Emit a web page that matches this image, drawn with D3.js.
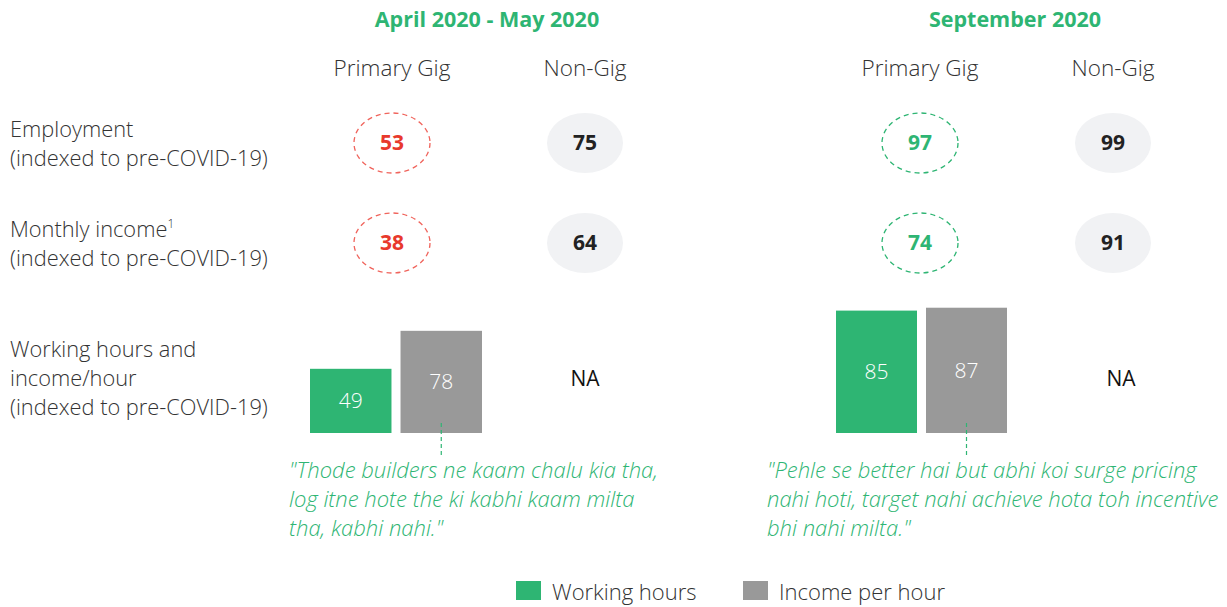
<!DOCTYPE html>
<html>
<head>
<meta charset="utf-8">
<script src="https://cdn.jsdelivr.net/npm/d3@7"></script>
<style>
  body { margin: 0; background: #fff; }
  text { font-family: "Open Sans", "Noto Sans", sans-serif; }
</style>
</head>
<body>
<script>
// Data
var periods = ["April 2020 - May 2020", "September 2020"];
var groups = ["Primary Gig", "Non-Gig"];
var gigEmployment = [53, 97];
var nonGigEmployment = [75, 99];
var gigIncome = [38, 74];
var nonGigIncome = [64, 91];
var barSeries = ["Working hours", "Income per hour"];
var workingHours = [49, 85];
var incomePerHour = [78, 87];
var quotes = [
    ["\"Thode builders ne kaam chalu kia tha,", "log itne hote the ki kabhi kaam milta", "tha, kabhi nahi.\""],
    ["\"Pehle se better hai but abhi koi surge pricing", "nahi hoti, target nahi achieve hota toh incentive", "bhi nahi milta.\""]
];
var rowLabels = [
    ["Employment", "(indexed to pre-COVID-19)"],
    ["Monthly income", "(indexed to pre-COVID-19)"],
    ["Working hours and", "income/hour", "(indexed to pre-COVID-19)"]
];

var width = 1227, height = 607;
var green = "#2eb573", gray = "#999999", red = "#e8392c", redLine = "#f0645c", textCol = "#333333";

var svg = d3.select("body").append("svg")
    .attr("width", width)
    .attr("height", height);

// panel offsets
var panelX = [0, 528];
var colScale = d3.scalePoint().domain(groups).range([392, 585]);
var rowY = [143, 243];
var baseY = 433;

// bars scale per panel
var yScales = [
    d3.scaleLinear().domain([0, 100]).range([0, 131]),
    d3.scaleLinear().domain([0, 100]).range([0, 144])
];

// Row labels
rowLabels.forEach(function(lines, i) {
    var startY = [129, 229, 349][i];
    lines.forEach(function(l, j) {
        var t = svg.append("text")
            .attr("x", 10)
            .attr("y", startY + j * 29)
            .attr("dy", "0.35em")
            .attr("font-size", 21.8)
            .attr("font-weight", 300)
            .attr("fill", textCol)
            .text(l);
        if (i === 1 && j === 0) {
            t.append("tspan").attr("font-size", 12).attr("dy", "-0.7em").text("1");
        }
    });
});

periods.forEach(function(p, i) {
    var off = panelX[i];
    var g = svg.append("g").attr("transform", "translate(" + off + ",0)");

    // Title
    g.append("text")
        .attr("x", 487)
        .attr("y", 19)
        .attr("dy", "0.35em")
        .attr("text-anchor", "middle")
        .attr("font-size", 21.5)
        .attr("font-weight", 700)
        .attr("fill", green)
        .text(p);

    // Column headers
    groups.forEach(function(gr) {
        g.append("text")
            .attr("x", colScale(gr))
            .attr("y", 68)
            .attr("dy", "0.35em")
            .attr("text-anchor", "middle")
            .attr("font-size", 22.5)
            .attr("font-weight", 300)
            .attr("fill", textCol)
            .text(gr);
    });

    // Ellipses
    var cells = [
        { grp: "Primary Gig", row: 0, v: gigEmployment[i] },
        { grp: "Non-Gig", row: 0, v: nonGigEmployment[i] },
        { grp: "Primary Gig", row: 1, v: gigIncome[i] },
        { grp: "Non-Gig", row: 1, v: nonGigIncome[i] }
    ];
    var gigCol = i === 0 ? red : green;
    var gigLine = i === 0 ? redLine : green;

    cells.forEach(function(c) {
        var cx = colScale(c.grp), cy = rowY[c.row];
        var isGig = c.grp === "Primary Gig";
        g.append("ellipse")
            .attr("cx", cx)
            .attr("cy", cy)
            .attr("rx", 38)
            .attr("ry", 30)
            .attr("fill", isGig ? "none" : "#f1f2f4")
            .attr("stroke", isGig ? gigLine : "none")
            .attr("stroke-width", 1.3)
            .attr("stroke-dasharray", "5,4");
        g.append("text")
            .attr("x", cx)
            .attr("y", cy)
            .attr("dy", "0.35em")
            .attr("text-anchor", "middle")
            .attr("font-size", 21)
            .attr("font-weight", 700)
            .attr("fill", isGig ? gigCol : "#222")
            .text(c.v);
    });

    // Bars
    var x = d3.scaleBand().domain(barSeries).range([i === 0 ? 310 : 308, i === 0 ? 482 : 479]).paddingInner(0.1);
    var vals = [workingHours[i], incomePerHour[i]];
    barSeries.forEach(function(s, k) {
        var h = yScales[i](vals[k]);
        g.append("rect")
            .attr("x", x(s))
            .attr("y", baseY - h)
            .attr("width", x.bandwidth())
            .attr("height", h)
            .attr("fill", k === 0 ? green : gray);
        g.append("text")
            .attr("x", x(s) + x.bandwidth() / 2)
            .attr("y", baseY - h / 2)
            .attr("dy", "0.35em")
            .attr("text-anchor", "middle")
            .attr("font-size", 21)
            .attr("font-weight", 300)
            .attr("fill", "#fff")
            .text(vals[k]);
    });

    // NA
    g.append("text")
        .attr("x", i === 0 ? 585 : 593)
        .attr("y", 379)
        .attr("dy", "0.35em")
        .attr("text-anchor", "middle")
        .attr("font-size", 21)
        .attr("fill", "#111")
        .text("NA");

    // connector
    var lx = x("Income per hour") + x.bandwidth() / 2;
    g.append("line")
        .attr("x1", lx).attr("x2", lx)
        .attr("y1", 423).attr("y2", 458)
        .attr("stroke", green)
        .attr("stroke-width", 1.2)
        .attr("stroke-dasharray", "4,3");

    // quote
    quotes[i].forEach(function(l, j) {
        g.append("text")
            .attr("x", 289 - (i === 0 ? 0 : 50))
            .attr("y", 470 + j * 29)
            .attr("dy", "0.35em")
            .attr("font-size", 22)
            .attr("font-style", "italic")
            .attr("font-weight", 300)
            .attr("fill", green)
            .text(l);
    });
});

// Legend
var legend = [
    { label: "Working hours", color: green, x: 516 },
    { label: "Income per hour", color: gray, x: 743 }
];
legend.forEach(function(d) {
    svg.append("rect")
        .attr("x", d.x).attr("y", 581)
        .attr("width", 25).attr("height", 19)
        .attr("fill", d.color);
    svg.append("text")
        .attr("x", d.x + 36)
        .attr("y", 592)
        .attr("dy", "0.35em")
        .attr("font-size", 22)
        .attr("font-weight", 300)
        .attr("fill", textCol)
        .text(d.label);
});
</script>
</body>
</html>
